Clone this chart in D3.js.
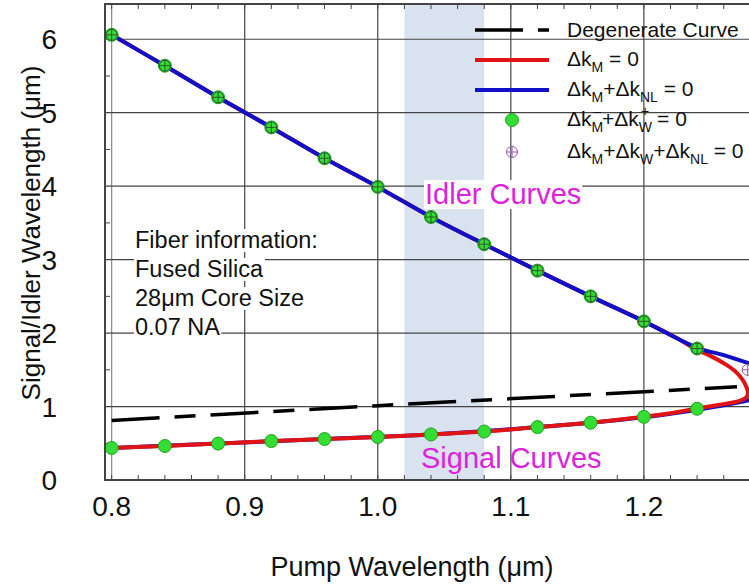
<!DOCTYPE html>
<html>
<head>
<meta charset="utf-8">
<script src="https://cdn.jsdelivr.net/npm/d3@7"></script>
<style>
  body { margin: 0; background: #fff; }
  text { font-family: Arial, "Liberation Sans", sans-serif; }
</style>
</head>
<body>
<div class="canva"></div>
<script>
// pump wavelengths where the markers sit
const pointPump = [0.80, 0.84, 0.88, 0.92, 0.96, 1.00, 1.04, 1.08, 1.12, 1.16, 1.20, 1.24];
const idlerPts  = [6.06, 5.64, 5.21, 4.80, 4.38, 3.99, 3.58, 3.21, 2.85, 2.50, 2.16, 1.79];
const signalPts = [0.436, 0.463, 0.496, 0.53, 0.558, 0.586, 0.62, 0.66, 0.72, 0.78, 0.86, 0.97];

// delta k_M + delta k_W + delta k_NL = 0 (crossed circles)
const crossPump = [0.80, 0.84, 0.88, 0.92, 0.96, 1.00, 1.04, 1.08, 1.12, 1.16, 1.20, 1.24, 1.278];
const crossWl   = [6.06, 5.64, 5.21, 4.80, 4.38, 3.99, 3.58, 3.21, 2.85, 2.50, 2.16, 1.79, 1.50];

// delta k_M = 0 (red), traced idler -> nose -> signal
const redPump = [0.80, 0.84, 0.88, 0.92, 0.96, 1.00, 1.04, 1.08, 1.12, 1.16, 1.20, 1.225, 1.24, 1.25, 1.26, 1.268, 1.274, 1.2772, 1.2782, 1.277, 1.273, 1.267, 1.257, 1.24, 1.22, 1.20, 1.16, 1.12, 1.08, 1.04, 1.00, 0.96, 0.92, 0.88, 0.84, 0.80];
const redWl   = [6.06, 5.64, 5.21, 4.80, 4.38, 3.99, 3.58, 3.21, 2.85, 2.50, 2.16, 1.93, 1.77, 1.69, 1.59, 1.49, 1.37, 1.26, 1.18, 1.125, 1.085, 1.055, 1.025, 0.973, 0.91, 0.86, 0.78, 0.72, 0.66, 0.62, 0.586, 0.558, 0.53, 0.496, 0.463, 0.436];

// delta k_M + delta k_NL = 0 (blue), two branches
const blueUpPump = [0.80, 0.84, 0.88, 0.92, 0.96, 1.00, 1.04, 1.08, 1.12, 1.16, 1.20, 1.24, 1.26, 1.29];
const blueUpWl   = [6.06, 5.64, 5.21, 4.80, 4.38, 3.99, 3.58, 3.21, 2.85, 2.50, 2.16, 1.80, 1.70, 1.52];
const blueLoPump = [0.80, 0.88, 0.96, 1.04, 1.12, 1.20, 1.24, 1.25, 1.265, 1.29];
const blueLoWl   = [0.436, 0.496, 0.558, 0.62, 0.72, 0.855, 0.955, 0.985, 1.035, 1.13];

// degenerate curve (dashed black)
const degPump = [0.80, 1.00, 1.27];
const degWl   = [0.81, 1.012, 1.268];

const shadeBand = [1.02, 1.08];
const xTicks = [0.8, 0.9, 1.0, 1.1, 1.2];
const yTicks = [0, 1, 2, 3, 4, 5, 6];

const svg = d3.select('.canva').append('svg')
    .attr('width', 749)
    .attr('height', 585);

const margin = {top: 4, left: 105, bottom: 480, right: 749};

var x = d3.scaleLinear()
    .domain([0.795, 1.279])
    .range([margin.left, margin.right]);

var y = d3.scaleLinear()
    .domain([0, 6.48])
    .range([margin.bottom, margin.top]);

svg.append('clipPath').attr('id', 'plotclip')
    .append('rect')
    .attr('x', margin.left).attr('y', margin.top)
    .attr('width', margin.right - margin.left)
    .attr('height', margin.bottom - margin.top);

const plot = svg.append('g').attr('clip-path', 'url(#plotclip)');

// shaded band
plot.append('rect')
    .attr('x', x(shadeBand[0]))
    .attr('y', margin.top)
    .attr('width', x(shadeBand[1]) - x(shadeBand[0]))
    .attr('height', margin.bottom - margin.top)
    .attr('fill', '#d9e2ef');

// grid
plot.selectAll('.vgrid').data(xTicks).enter().append('line')
    .attr('x1', d => x(d)).attr('x2', d => x(d))
    .attr('y1', margin.top).attr('y2', margin.bottom)
    .attr('stroke', (d, i) => i == 0 ? '#888' : '#444')
    .attr('stroke-width', 1.2);

plot.selectAll('.hgrid').data(yTicks.slice(1)).enter().append('line')
    .attr('x1', margin.left).attr('x2', margin.right)
    .attr('y1', d => y(d)).attr('y2', d => y(d))
    .attr('stroke', '#444')
    .attr('stroke-width', 1.2);

// minor ticks
const minorX = d3.range(0.80, 1.28, 0.02);
const minorY = d3.range(0.5, 6.5, 1);
plot.selectAll('.mxb').data(minorX).enter().append('line')
    .attr('x1', d => x(d)).attr('x2', d => x(d))
    .attr('y1', margin.bottom).attr('y2', margin.bottom - 5)
    .attr('stroke', '#444');
plot.selectAll('.mxt').data(minorX).enter().append('line')
    .attr('x1', d => x(d)).attr('x2', d => x(d))
    .attr('y1', margin.top).attr('y2', margin.top + 5)
    .attr('stroke', '#444');
plot.selectAll('.my').data(minorY).enter().append('line')
    .attr('x1', margin.left).attr('x2', margin.left + 5)
    .attr('y1', d => y(d)).attr('y2', d => y(d))
    .attr('stroke', '#444');

// helper for label boxes that hide the grid
function knockout(sel) {
    sel.each(function() {
        const b = this.getBBox();
        d3.select(this.parentNode).insert('rect', () => this)
            .attr('x', b.x - 1).attr('y', b.y + 2)
            .attr('width', b.width + 2).attr('height', b.height - 3)
            .attr('fill', '#fff');
    });
}

// annotation
const note = ['Fiber information:', 'Fused Silica', '28\u03bcm Core Size', '0.07 NA'];
const noteG = plot.append('g');
note.forEach((t, i) => {
    noteG.append('text')
        .attr('x', 135).attr('y', 248 + i * 29)
        .attr('font-size', 23.5)
        .attr('fill', '#111')
        .text(t);
});
knockout(noteG.selectAll('text'));

const idlerLbl = plot.append('g');
idlerLbl.append('text')
    .attr('x', 425).attr('y', 204)
    .attr('font-size', 29)
    .attr('fill', '#dd22dd')
    .text('Idler Curves');
knockout(idlerLbl.selectAll('text'));

plot.append('text')
    .attr('x', 421).attr('y', 468)
    .attr('font-size', 29)
    .attr('fill', '#dd22dd')
    .text('Signal Curves');

// curves
const line = d3.line()
    .x(d => x(d[0]))
    .y(d => y(d[1]))
    .curve(d3.curveCatmullRom);

plot.append('path')
    .attr('d', d3.line().x(d => x(d[0])).y(d => y(d[1]))(d3.zip(degPump, degWl)))
    .attr('fill', 'none')
    .attr('stroke', '#000')
    .attr('stroke-width', 3.5)
    .attr('stroke-dasharray', '48,15,21,15');

plot.append('path')
    .attr('d', line(d3.zip(blueLoPump, blueLoWl)))
    .attr('fill', 'none')
    .attr('stroke', '#1010c8')
    .attr('stroke-width', 4);

plot.append('path')
    .attr('d', line(d3.zip(redPump, redWl)))
    .attr('fill', 'none')
    .attr('stroke', '#e01414')
    .attr('stroke-width', 4);

plot.append('path')
    .attr('d', line(d3.zip(blueUpPump, blueUpWl)))
    .attr('fill', 'none')
    .attr('stroke', '#1010c8')
    .attr('stroke-width', 4);

// green dots
function greenDot(g, cx, cy) {
    g.append('circle')
        .attr('cx', cx).attr('cy', cy).attr('r', 6.5)
        .attr('fill', '#33dd33')
        .attr('stroke', '#22a022')
        .attr('stroke-width', 1);
}
function crossDot(g, cx, cy, col) {
    g.append('circle')
        .attr('cx', cx).attr('cy', cy).attr('r', 5.5)
        .attr('fill', 'none')
        .attr('stroke', col).attr('stroke-width', 1);
    g.append('path')
        .attr('d', `M${cx - 6},${cy}H${cx + 6}M${cx},${cy - 6}V${cy + 6}`)
        .attr('stroke', col).attr('stroke-width', 1);
}

pointPump.forEach((p, i) => {
    greenDot(plot, x(p), y(idlerPts[i]));
    greenDot(plot, x(p), y(signalPts[i]));
});
crossPump.forEach((p, i) => {
    crossDot(plot, x(p), y(crossWl[i]), i < pointPump.length ? '#2a5a2a' : '#9a5aaa');
});

// frame
svg.append('path')
    .attr('d', `M${margin.right},${margin.top}H${margin.left}V${margin.bottom}H${margin.right}`)
    .attr('fill', 'none')
    .attr('stroke', '#444')
    .attr('stroke-width', 2);

// tick labels
svg.selectAll('.xlab').data(xTicks).enter().append('text')
    .attr('x', d => x(d))
    .attr('y', 516)
    .attr('text-anchor', 'middle')
    .attr('font-size', 28)
    .attr('fill', '#111')
    .text(d => d.toFixed(1));

svg.selectAll('.ylab').data(yTicks).enter().append('text')
    .attr('x', 57)
    .attr('y', d => y(d) + 10)
    .attr('text-anchor', 'end')
    .attr('font-size', 28)
    .attr('fill', '#111')
    .text(d => d);

// axis titles
svg.append('text')
    .attr('x', 412).attr('y', 576)
    .attr('text-anchor', 'middle')
    .attr('font-size', 27)
    .attr('fill', '#111')
    .text('Pump Wavelength (\u03bcm)');

svg.append('text')
    .attr('transform', 'translate(40,233) rotate(-90)')
    .attr('text-anchor', 'middle')
    .attr('font-size', 26)
    .attr('fill', '#111')
    .text('Signal/Idler Wavelength (\u03bcm)');

// legend
const leg = svg.append('g');
const lx0 = 475, lx1 = 549, tx = 567;

leg.append('line')
    .attr('x1', lx0).attr('x2', lx1).attr('y1', 30).attr('y2', 30)
    .attr('stroke', '#000').attr('stroke-width', 3.5)
    .attr('stroke-dasharray', '48,15,21,15');
leg.append('line')
    .attr('x1', lx0).attr('x2', lx1).attr('y1', 60).attr('y2', 60)
    .attr('stroke', '#e01414').attr('stroke-width', 4);
leg.append('line')
    .attr('x1', lx0).attr('x2', lx1).attr('y1', 90).attr('y2', 90)
    .attr('stroke', '#1010c8').attr('stroke-width', 4);
greenDot(leg, 512, 120);
crossDot(leg, 512, 152, '#9a5aaa');

const legText = leg.append('g').attr('font-size', 21).attr('fill', '#111');

legText.append('text').attr('x', tx).attr('y', 37).text('Degenerate Curve');

function sub(t, s) {
    t.append('tspan').attr('font-size', 14).attr('dy', 6).text(s);
}

var t2 = legText.append('text').attr('x', tx).attr('y', 66);
t2.append('tspan').text('\u0394k');
sub(t2, 'M');
t2.append('tspan').attr('dy', -6).text(' = 0');

var t3 = legText.append('text').attr('x', tx).attr('y', 96);
t3.append('tspan').text('\u0394k');
sub(t3, 'M');
t3.append('tspan').attr('dy', -6).text('+\u0394k');
sub(t3, 'NL');
t3.append('tspan').attr('dy', -6).text(' = 0');

var t4 = legText.append('text').attr('x', tx).attr('y', 126);
t4.append('tspan').text('\u0394k');
sub(t4, 'M');
t4.append('tspan').attr('font-size', 14).attr('dx', -10).attr('dy', -16).text('\u2013');
t4.append('tspan').attr('dx', 1).attr('dy', 10).text('+\u0394k');
sub(t4, 'W');
t4.append('tspan').attr('font-size', 14).attr('dx', -11).attr('dy', -16).text('+');
t4.append('tspan').attr('dx', 2).attr('dy', 10).text(' = 0');

var t5 = legText.append('text').attr('x', tx).attr('y', 158);
t5.append('tspan').text('\u0394k');
sub(t5, 'M');
t5.append('tspan').attr('dy', -6).text('+\u0394k');
sub(t5, 'W');
t5.append('tspan').attr('dy', -6).text('+\u0394k');
sub(t5, 'NL');
t5.append('tspan').attr('dy', -6).text(' = 0');
</script>
</body>
</html>
